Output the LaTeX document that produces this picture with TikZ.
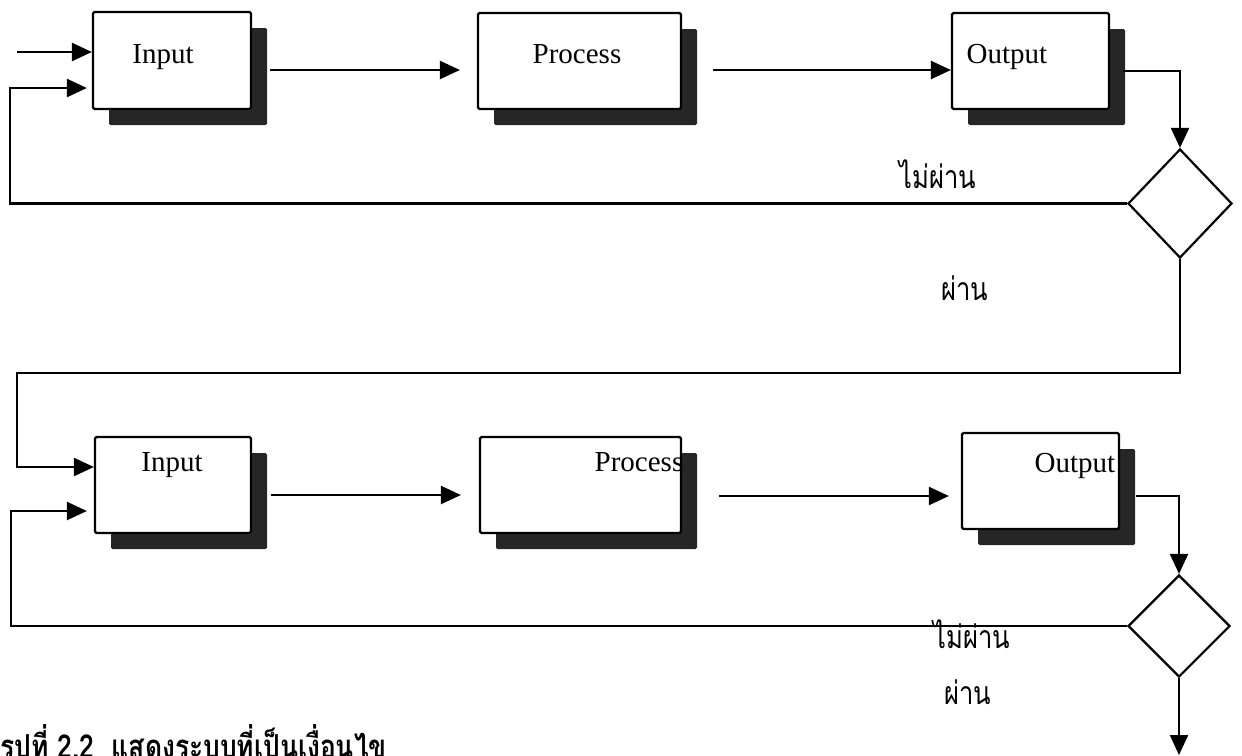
\documentclass[tikz,border=0pt]{standalone}
\usepackage{fontspec}
\setmainfont{Liberation Serif}
\newfontfamily\thaifont[Script=Thai,FakeStretch=0.8]{Loma}
\usetikzlibrary{arrows.meta,shapes.geometric,shadows,calc}
\begin{document}
\begin{tikzpicture}[x=1pt,y=-1pt,
  box/.style={draw, line width=2.2pt, rounded corners=1.5pt, fill=white, inner sep=0pt,
    drop shadow={shadow xshift=16pt, shadow yshift=-16pt, fill=black!85, opacity=1, rounded corners=0pt}},
  dec/.style={draw, diamond, line width=2.2pt, inner sep=0pt, fill=white},
  lbl/.style={font=\fontsize{29}{30}\selectfont, inner sep=0pt, anchor=base},
  th/.style={font=\thaifont\fontsize{32}{34}\selectfont, inner sep=0pt, anchor=base},
  captxt/.style={font=\thaifont\bfseries\fontsize{33}{35}\selectfont, inner sep=0pt, anchor=base west},
  arr/.style={line width=2.2pt, -{Triangle[length=20pt,width=18pt]}}]
\useasboundingbox (0,0) rectangle (1242,755);
% top row
\node[box, minimum width=158pt, minimum height=97pt] (in1) at (172,60.5) {};
\node[box, minimum width=203pt, minimum height=96pt] (pr1) at (579.5,61) {};
\node[box, minimum width=157pt, minimum height=96pt] (out1) at (1030.5,61) {};
\node[lbl] (tin1) at (163,63) {Input};
\node[lbl] (tpr1) at (577,63) {Process};
\node[lbl] (tout1) at (1007,63) {Output};
\node[dec, minimum width=104pt, minimum height=109pt] (d1) at (1180,203.5) {};
% bottom row
\node[box, minimum width=156pt, minimum height=96pt] (in2) at (173,485) {};
\node[box, minimum width=201pt, minimum height=96pt] (pr2) at (580.5,485) {};
\node[box, minimum width=157pt, minimum height=96pt] (out2) at (1040.5,481) {};
\node[lbl] (tin2) at (172,471) {Input};
\node[lbl] (tpr2) at (639,471) {Process};
\node[lbl] (tout2) at (1075,472) {Output};
\node[dec, minimum width=102pt, minimum height=102pt] (d2) at (1179,626) {};
% labels
\node[th] (no1) at (938,188) {ไม่ผ่าน};
\node[th] (yes1) at (965,300) {ผ่าน};
\node[th] (no2) at (972,648) {ไม่ผ่าน};
\node[th] (yes2) at (968,704) {ผ่าน};
\node[captxt] (caption) at (0,758) {รูปที่ 2.2\ \ แสดงระบบที่เป็นเงื่อนไข};
% coordinates
\coordinate (s1) at (17,52);
\coordinate (fb1) at (10,88);
\coordinate (c2) at (17,373);
\coordinate (fb2) at (11,511);
\coordinate (endpt) at (1179,755);
% connectors top
\draw[arr] (s1) -- (s1 -| in1.west);
\draw[arr] (d1.west) -| (fb1) -- ($(in1.west)+(-5,27.5)$);
\draw[arr] ($(in1.east)+(18,9.5)$) -- ($(pr1.west)+(-17,9)$);
\draw[arr] ($(pr1.east)+(31,9)$) -- ($(out1.west)+(0,9)$);
\draw[arr] ($(out1.east)+(13,10)$) -| (d1.north);
\draw[arr] (d1.south) |- (c2) |- ($(in2.west)+(0,-18)$);
% connectors bottom
\draw[arr] (d2.west) -| (fb2) -- ($(in2.west)+(-7,26)$);
\draw[arr] ($(in2.east)+(19,10)$) -- ($(pr2.west)+(-18,10)$);
\draw[arr] ($(pr2.east)+(37,11)$) -- ($(out2.west)+(-12,15)$);
\draw[arr] ($(out2.east)+(16,15)$) -| (d2.north);
\draw[arr] (d2.south) -- (endpt);
\end{tikzpicture}
\end{document}
